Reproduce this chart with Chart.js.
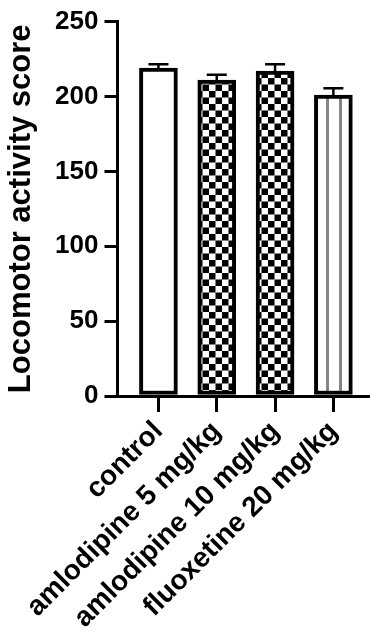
<!DOCTYPE html>
<html>
<head>
<meta charset="utf-8">
<script src="https://cdn.jsdelivr.net/npm/chart.js@4.4.1/dist/chart.umd.min.js"></script>
<style>
  html, body { margin: 0; padding: 0; background: #ffffff; }
  #wrap { width: 370px; height: 641px; position: relative; }
</style>
</head>
<body>
<div id="wrap"><canvas id="c" width="370" height="641"></canvas></div>
<script>
// ---- data ----
const categories = ['control', 'amlodipine 5 mg/kg', 'amlodipine 10 mg/kg', 'fluoxetine 20 mg/kg'];
const means = [219, 211, 217, 201];
const errors = [2.5, 3.5, 4.5, 4.5];
const yTickValues = [0, 50, 100, 150, 200, 250];
const yTitle = 'Locomotor activity score';

// ---- fill patterns ----
function checker() {
  const c = document.createElement('canvas');
  c.width = 13; c.height = 13;
  const g = c.getContext('2d');
  g.fillStyle = '#ffffff'; g.fillRect(0, 0, 13, 13);
  g.fillStyle = '#000000';
  g.fillRect(0, 0, 6.5, 6.5);
  g.fillRect(6.5, 6.5, 6.5, 6.5);
  return g.createPattern(c, 'repeat');
}
function stripes() {
  const c = document.createElement('canvas');
  c.width = 13; c.height = 13;
  const g = c.getContext('2d');
  g.fillStyle = '#ffffff'; g.fillRect(0, 0, 13, 13);
  g.fillStyle = '#858585';
  g.fillRect(0, 0, 3, 13);
  return g.createPattern(c, 'repeat');
}
const fills = ['#ffffff', checker(), checker(), stripes()];

const FONT = '"Liberation Sans", Arial, sans-serif';

// align each pattern to its own bar's left edge
const alignPatterns = {
  id: 'alignPatterns',
  beforeDatasetsDraw(chart) {
    const meta = chart.getDatasetMeta(0);
    meta.data.forEach((bar, i) => {
      const f = fills[i];
      if (f && typeof f.setTransform === 'function') {
        const left = bar.x - bar.width / 2;
        f.setTransform(new DOMMatrix().translate(Math.round(left - 1.5), 0));
      }
    });
  }
};

const errorBars = {
  id: 'errorBars',
  afterDatasetsDraw(chart) {
    const ctx = chart.ctx;
    const xs = chart.scales.x, ys = chart.scales.y;
    ctx.save();
    ctx.strokeStyle = '#000';
    ctx.lineWidth = 2.5;
    means.forEach((m, i) => {
      const x = xs.getPixelForValue(i);
      const yb = ys.getPixelForValue(m);
      const yt = ys.getPixelForValue(m + errors[i]);
      ctx.beginPath();
      ctx.moveTo(x, yb);
      ctx.lineTo(x, yt);
      ctx.moveTo(x - 10, yt);
      ctx.lineTo(x + 10, yt);
      ctx.stroke();
    });
    ctx.restore();
  }
};

new Chart(document.getElementById('c'), {
  type: 'bar',
  data: {
    datasets: [{
      data: means.map((v, i) => ({ x: i, y: v })),
      backgroundColor: fills,
      borderColor: '#000000',
      borderWidth: 4,
      borderSkipped: false,
      barThickness: 38
    }]
  },
  options: {
    responsive: false,
    animation: false,
    events: [],
    layout: { padding: { left: 0, right: 0, top: 17, bottom: 0 } },
    plugins: { legend: { display: false }, tooltip: { enabled: false } },
    scales: {
      x: {
        type: 'linear',
        offset: false,
        min: -0.702,
        max: 3.628,
        afterBuildTicks(scale) { scale.ticks = categories.map((_, i) => ({ value: i })); },
        afterFit(scale) { scale.height = 245; },
        grid: { display: true, offset: false, drawOnChartArea: false, drawTicks: true, tickLength: 16, lineWidth: 3, color: '#000' },
        border: { display: true, width: 3, color: '#000' },
        ticks: {
          autoSkip: false,
          minRotation: 45,
          maxRotation: 45,
          padding: 3,
          color: '#000',
          font: { family: FONT, size: 28, weight: 'bold' },
          callback: (v) => categories[v]
        }
      },
      y: {
        min: 0,
        max: 250,
        afterBuildTicks(scale) { scale.ticks = yTickValues.map(v => ({ value: v })); },
        afterFit(scale) { scale.width = 117.5; },
        grid: { display: true, drawOnChartArea: false, drawTicks: true, tickLength: 13, lineWidth: 3, color: '#000' },
        border: { display: true, width: 3, color: '#000' },
        ticks: {
          padding: 6,
          color: '#000',
          font: { family: FONT, size: 26, weight: 'bold' }
        },
        title: {
          display: true,
          text: yTitle,
          color: '#000',
          padding: { top: 3, bottom: 0 },
          font: { family: FONT, size: 31, weight: 'bold' }
        }
      }
    }
  },
  plugins: [alignPatterns, errorBars]
});
</script>
</body>
</html>
